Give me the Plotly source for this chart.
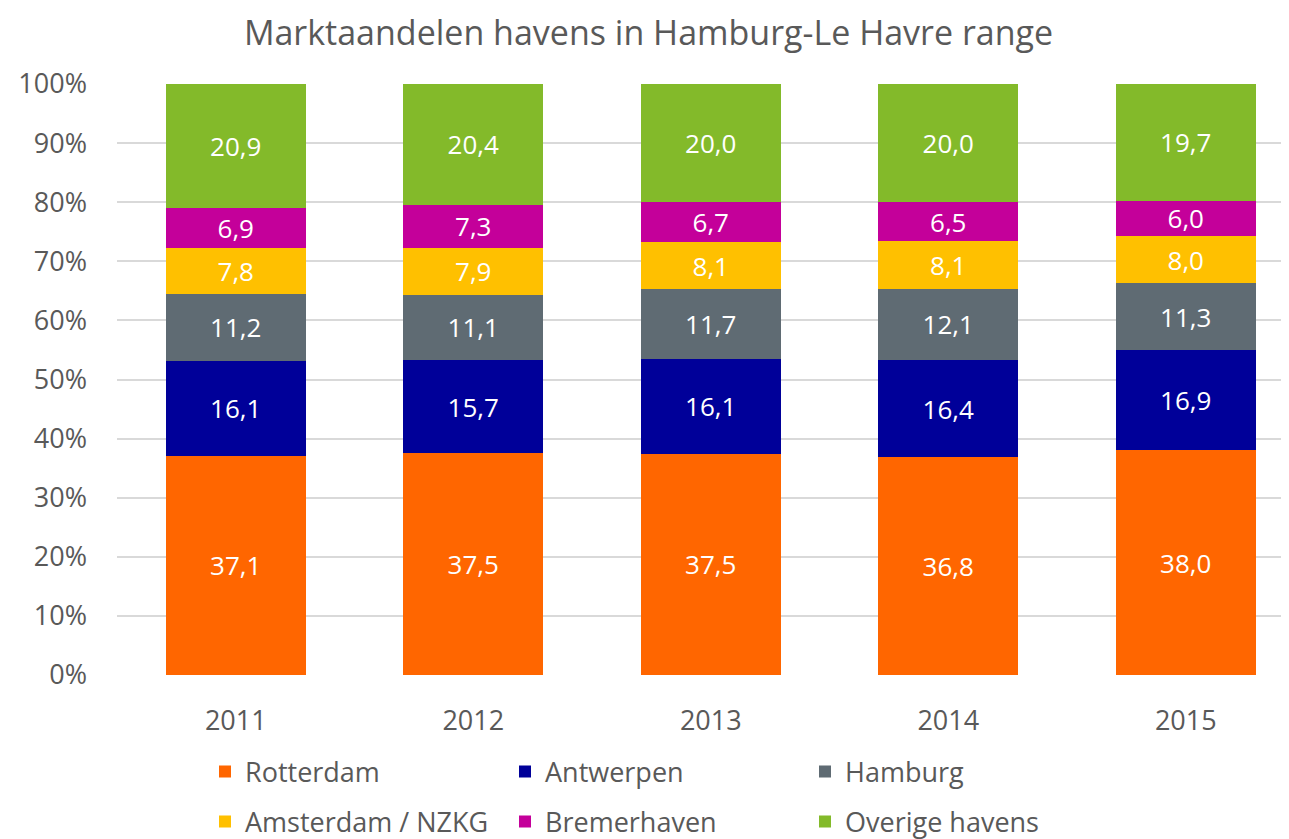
import plotly.graph_objects as go

years = ["2011", "2012", "2013", "2014", "2015"]
series_names = ["Rotterdam", "Antwerpen", "Hamburg", "Amsterdam / NZKG", "Bremerhaven", "Overige havens"]
rotterdam = [37.1, 37.5, 37.5, 36.8, 38.0]
antwerpen = [16.1, 15.7, 16.1, 16.4, 16.9]
hamburg = [11.2, 11.1, 11.7, 12.1, 11.3]
amsterdam = [7.8, 7.9, 8.1, 8.1, 8.0]
bremerhaven = [6.9, 7.3, 6.7, 6.5, 6.0]
overige = [20.9, 20.4, 20.0, 20.0, 19.7]
colors = ["#FF6600", "#000099", "#5F6B73", "#FFC000", "#C4009A", "#83BA2A"]
y_ticks = [0, 10, 20, 30, 40, 50, 60, 70, 80, 90, 100]

all_series = [rotterdam, antwerpen, hamburg, amsterdam, bremerhaven, overige]

font_family = "Open Sans, Lato, sans-serif"
grey = "#595959"

W, H = 1281, 831
L, T, PH = 109, 76, 591
PW = W - L
B = H - T - PH

fig = go.Figure()
for i, (name, vals, col) in enumerate(zip(series_names, all_series, colors)):
    fig.add_trace(go.Bar(
        x=years, y=vals, name=name,
        legend="legend" if i < 3 else "legend2",
        marker=dict(color=col, line=dict(width=0)),
        text=[f"{v:.1f}".replace(".", ",") for v in vals],
        textposition="inside", insidetextanchor="middle", textangle=0,
        textfont=dict(color="white", size=26, family=font_family),
        hoverinfo="skip",
    ))

legend_common = dict(orientation="h", xanchor="left", yanchor="middle",
                     entrywidth=255, entrywidthmode="pixels",
                     font=dict(size=27, color=grey, family=font_family),
                     traceorder="normal", itemwidth=30, bgcolor="rgba(0,0,0,0)")

fig.update_layout(
    barmode="stack", barnorm="percent", bargap=0.41,
    width=W, height=H,
    margin=dict(l=L, r=0, t=T, b=B, autoexpand=False),
    plot_bgcolor="white", paper_bgcolor="white",
    font=dict(family=font_family, color=grey),
    title=dict(text="Marktaandelen havens in Hamburg-Le Havre range",
               x=0.5, xanchor="center", y=1 - 25 / H, yanchor="middle",
               font=dict(size=34, color=grey, family=font_family)),
    uniformtext=dict(minsize=26, mode="show"),
    showlegend=True,
    legend=dict(x=(205 - 8 - L) / PW, y=-(764 - T - PH) / PH, **legend_common),
    legend2=dict(x=(205 - 8 - L) / PW, y=-(814 - T - PH) / PH, **legend_common),
)
fig.update_xaxes(range=[-0.5, -0.5 + PW / 237.5], showgrid=False, showline=False,
                 ticks="", ticklabelstandoff=27, automargin=False,
                 tickfont=dict(size=27, color=grey, family=font_family))
fig.update_yaxes(range=[0, 100], tickvals=y_ticks, ticktext=[f"{t}%" for t in y_ticks],
                 showgrid=True, gridcolor="#D9D9D9", gridwidth=1.5, zeroline=False,
                 showline=False, ticks="", ticklabelstandoff=29, automargin=False,
                 tickfont=dict(size=27, color=grey, family=font_family))

fig.write_html("out.html")
